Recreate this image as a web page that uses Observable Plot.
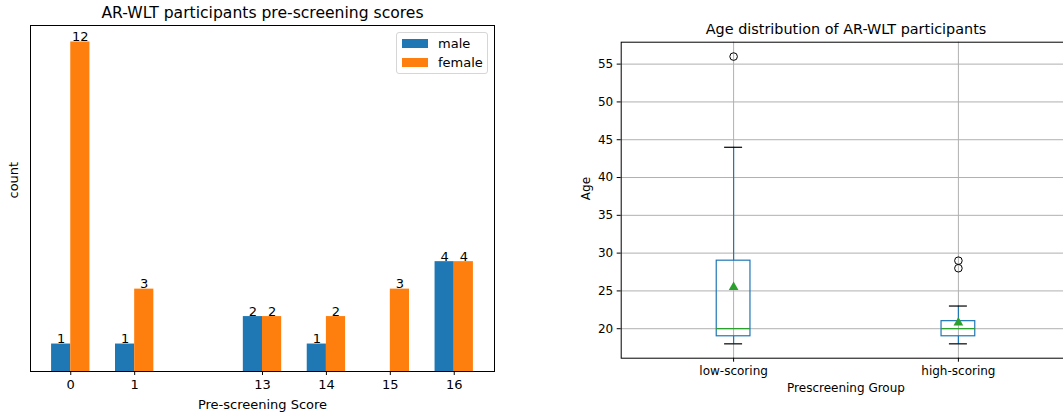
<!DOCTYPE html>
<html>
<head>
<meta charset="utf-8">
<script src="https://cdn.jsdelivr.net/npm/d3@7"></script>
<script src="https://cdn.jsdelivr.net/npm/@observablehq/plot@0.6"></script>
<style>
  html, body { margin: 0; padding: 0; background: #fff; }
  body { width: 1063px; height: 414px; overflow: hidden; position: relative; font-family: "DejaVu Sans", sans-serif; }
  .panel { position: absolute; top: 0; }
  .panel svg { max-width: none !important; display: block; }
  .legend {
    position: absolute; left: 396px; top: 32px; width: 92px; height: 42px;
    border: 1px solid #d6d6d6; border-radius: 3px; background: rgba(255,255,255,0.8);
    box-sizing: border-box; font-size: 13px; color: #000;
  }
  .legend .row { position: absolute; left: 5px; height: 13px; display: flex; align-items: center; }
  .legend .sw { width: 26px; height: 9px; margin-right: 10px; }
</style>
</head>
<body>
<div id="left" class="panel" style="left:0;width:530px"></div>
<div id="right" class="panel" style="left:560px;width:520px"></div>
<div class="legend" id="legend"></div>
<script>
// ---- Pre-screening score counts by gender ----
const scores = ["0", "1", "13", "14", "15", "16"];
const male = [1, 1, 2, 1, 0, 4];
const female = [12, 3, 2, 2, 3, 4];
const genders = ["male", "female"];
const genderColors = ["#1f77b4", "#ff7f0e"];

// ---- Age summary per prescreening group ----
const groups = ["low-scoring", "high-scoring"];
const ageQ1 = [19, 19];
const ageMedian = [20, 20];
const ageQ3 = [29, 21];
const ageWhiskerLow = [18, 18];
const ageWhiskerHigh = [44, 23];
const ageMean = [25.5, 20.8];
const outlierGroup = ["low-scoring", "high-scoring", "high-scoring"];
const outlierAge = [56, 28, 29];
const ageTicks = [20, 25, 30, 35, 40, 45, 50, 55];

const baseStyle = { fontFamily: "DejaVu Sans, sans-serif", color: "#000", background: "transparent", overflow: "visible" };

// Slot for each score group; one empty slot separates the low scores (0, 1) from the high scores (13+).
const slot = scores.map((s, i) => i + (+s >= 13 ? 1 : 0));
const barW = 0.3;
const bars = scores.flatMap((s, i) => [
  { score: s, gender: "male", count: male[i], x1: slot[i] - barW, x2: slot[i] },
  { score: s, gender: "female", count: female[i], x1: slot[i], x2: slot[i] + barW }
]).filter(d => d.count > 0);

const left = Plot.plot({
  width: 530, height: 414,
  marginLeft: 30, marginRight: 36, marginTop: 25, marginBottom: 43,
  style: { ...baseStyle, fontSize: "13px" },
  x: { domain: [-0.63, 6.63], axis: null },
  y: { domain: [0, 12.6], axis: null },
  color: { domain: genders, range: genderColors },
  marks: [
    Plot.rect(bars, { x1: "x1", x2: "x2", y1: () => 0, y2: "count", fill: "gender" }),
    Plot.text(bars, { x: d => (d.x1 + d.x2) / 2, y: "count", text: d => String(d.count), lineAnchor: "bottom", dy: -1, fill: "#000", fontSize: 13 }),
    Plot.axisX(slot, { tickFormat: d => scores[slot.indexOf(d)], tickSize: 4, tickPadding: 4, label: null, stroke: "#000", fontSize: 13 }),
    Plot.frame({ stroke: "#000", strokeWidth: 1 }),
    Plot.text(["AR-WLT participants pre-screening scores"], { frameAnchor: "top", lineAnchor: "middle", text: d => d, dy: -13, fontSize: 15.6, fill: "#000" }),
    Plot.text(["Pre-screening Score"], { frameAnchor: "bottom", lineAnchor: "middle", text: d => d, dy: 33, fontSize: 13, fill: "#000" }),
    Plot.text(["count"], { frameAnchor: "left", lineAnchor: "middle", text: d => d, rotate: -90, dx: -17, fontSize: 13, fill: "#000" })
  ]
});
document.getElementById("left").append(left);

// Legend inside the bar chart
const legend = document.getElementById("legend");
genders.forEach((g, i) => {
  const row = document.createElement("div");
  row.className = "row";
  row.style.top = (4 + i * 19) + "px";
  const sw = document.createElement("div");
  sw.className = "sw";
  sw.style.background = genderColors[i];
  const lab = document.createElement("span");
  lab.textContent = g;
  row.append(sw, lab);
  legend.append(row);
});

// ---- Box plot of ages ----
const pos = groups.map((g, i) => i + 1);
const boxes = groups.map((g, i) => ({
  group: g, x: pos[i], q1: ageQ1[i], med: ageMedian[i], q3: ageQ3[i],
  lo: ageWhiskerLow[i], hi: ageWhiskerHigh[i], mean: ageMean[i]
}));
const outliers = outlierGroup.map((g, i) => ({ x: groups.indexOf(g) + 1, age: outlierAge[i] }));
const boxHalf = 0.075, capHalf = 0.04;

const right = Plot.plot({
  width: 520, height: 414,
  marginLeft: 60.7, marginRight: 9.7, marginTop: 41.7, marginBottom: 56.3,
  style: { ...baseStyle, fontSize: "12px" },
  x: { domain: [0.5, 2.5], axis: null },
  y: { domain: [16.1, 57.9], axis: null },
  marks: [
    Plot.gridY(ageTicks, { stroke: "#b0b0b0", strokeOpacity: 1, strokeWidth: 1 }),
    Plot.gridX(pos, { stroke: "#b0b0b0", strokeOpacity: 1, strokeWidth: 1 }),
    Plot.ruleX(boxes, { x: "x", y1: "lo", y2: "q1", stroke: "#1f77b4", strokeWidth: 1.2 }),
    Plot.ruleX(boxes, { x: "x", y1: "q3", y2: "hi", stroke: "#1f77b4", strokeWidth: 1.2 }),
    Plot.rect(boxes, { x1: d => d.x - boxHalf, x2: d => d.x + boxHalf, y1: "q1", y2: "q3", fill: "none", stroke: "#1f77b4", strokeWidth: 1.2 }),
    Plot.ruleY(boxes, { y: "lo", x1: d => d.x - capHalf, x2: d => d.x + capHalf, stroke: "#000", strokeWidth: 1.2 }),
    Plot.ruleY(boxes, { y: "hi", x1: d => d.x - capHalf, x2: d => d.x + capHalf, stroke: "#000", strokeWidth: 1.2 }),
    Plot.ruleY(boxes, { y: "med", x1: d => d.x - boxHalf, x2: d => d.x + boxHalf, stroke: "#2ca02c", strokeWidth: 1.2 }),
    Plot.dot(boxes, { x: "x", y: "mean", symbol: "triangle", r: 3.6, fill: "#2ca02c", stroke: "none" }),
    Plot.dot(outliers, { x: "x", y: "age", r: 3.8, fill: "none", stroke: "#000", strokeWidth: 1 }),
    Plot.axisY(ageTicks, { tickSize: 4, tickPadding: 4, label: null, stroke: "#000" }),
    Plot.axisX(pos, { tickFormat: d => groups[d - 1], tickSize: 4, tickPadding: 4, label: null, stroke: "#000" }),
    Plot.frame({ stroke: "#000", strokeWidth: 1 }),
    Plot.text(["Age distribution of AR-WLT participants"], { frameAnchor: "top", lineAnchor: "middle", text: d => d, dy: -12.5, fontSize: 14.4, fill: "#000" }),
    Plot.text(["Prescreening Group"], { frameAnchor: "bottom", lineAnchor: "middle", text: d => d, dy: 30, fontSize: 12, fill: "#000" }),
    Plot.text(["Age"], { frameAnchor: "left", lineAnchor: "middle", text: d => d, rotate: -90, dx: -35, fontSize: 12, fill: "#000" })
  ]
});
document.getElementById("right").append(right);
</script>
</body>
</html>
